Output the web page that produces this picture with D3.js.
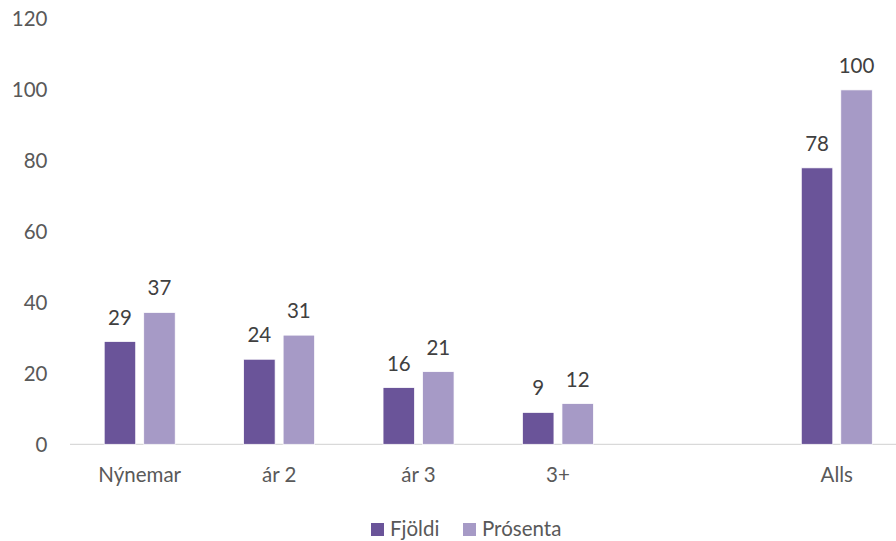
<!DOCTYPE html>
<html><head><meta charset="utf-8">
<script src="https://cdn.jsdelivr.net/npm/d3@7"></script>
<style>html,body{margin:0;padding:0;background:#fff}svg{display:block}</style>
</head><body>
<svg id="c" width="896" height="541"></svg>
<script>
const categories = ["Nýnemar", "ár 2", "ár 3", "3+", "", "Alls"];
const seriesNames = ["Fjöldi", "Prósenta"];
const fjoldi = [29, 24, 16, 9, null, 78];
const prosenta = [37.2, 30.8, 20.5, 11.5, null, 100];
const yTicks = [0, 20, 40, 60, 80, 100, 120];
const colors = ["#6a5499", "#a69ac6"];

const svg = d3.select("#c");
const font = "Lato, 'Open Sans', sans-serif";
const fs = 20.5;
const x = d3.scaleBand().domain(categories.map((d,i)=>i)).range([70, 906.5]);
const y = d3.scaleLinear().domain([0, 120]).range([444.3, 19]);
const barW = 31.5, gap = 8;

// y axis labels
svg.append("g").selectAll("text").data(yTicks).join("text")
  .attr("x", 47.5).attr("y", d => y(d)).attr("dy", "0.36em")
  .attr("text-anchor", "end").attr("font-family", font).attr("font-size", fs)
  .attr("fill", "#595959").text(d => d);

// baseline
svg.append("line").attr("x1", 70).attr("x2", 896).attr("y1", y(0)).attr("y2", y(0))
  .attr("stroke", "#d9d9d9").attr("stroke-width", 1.3);

const series = [fjoldi, prosenta];
series.forEach((vals, s) => {
  const g = svg.append("g");
  const data = vals.map((v,i)=>({v,i})).filter(d => d.v != null);
  g.selectAll("rect").data(data).join("rect")
    .attr("x", d => x(d.i) + x.bandwidth()/2 - barW - gap/2 + s*(barW+gap))
    .attr("width", barW)
    .attr("y", d => y(d.v)).attr("height", d => y(0) - y(d.v))
    .attr("fill", colors[s]).attr("stroke", "#fff").attr("stroke-width", 0.75);
  g.selectAll("text").data(data).join("text")
    .attr("x", d => x(d.i) + x.bandwidth()/2 - barW/2 - gap/2 + s*(barW+gap))
    .attr("y", d => y(d.v) - 17)
    .attr("text-anchor", "middle").attr("font-family", font).attr("font-size", fs)
    .attr("fill", "#404040").text(d => Math.round(d.v));
});

// x labels
svg.append("g").selectAll("text").data(categories.map((c,i)=>({c,i})).filter(d=>d.c)).join("text")
  .attr("x", d => x(d.i) + x.bandwidth()/2).attr("y", 482)
  .attr("text-anchor", "middle").attr("font-family", font).attr("font-size", fs)
  .attr("fill", "#595959").text(d => d.c);

// legend
const legX = [371, 463];
seriesNames.forEach((n, s) => {
  svg.append("rect").attr("x", legX[s]).attr("y", 523).attr("width", 13).attr("height", 13).attr("fill", colors[s]);
  svg.append("text").attr("x", legX[s] + 19).attr("y", 536).attr("font-family", font).attr("font-size", fs)
    .attr("fill", "#595959").text(n);
});
</script>
</body></html>
